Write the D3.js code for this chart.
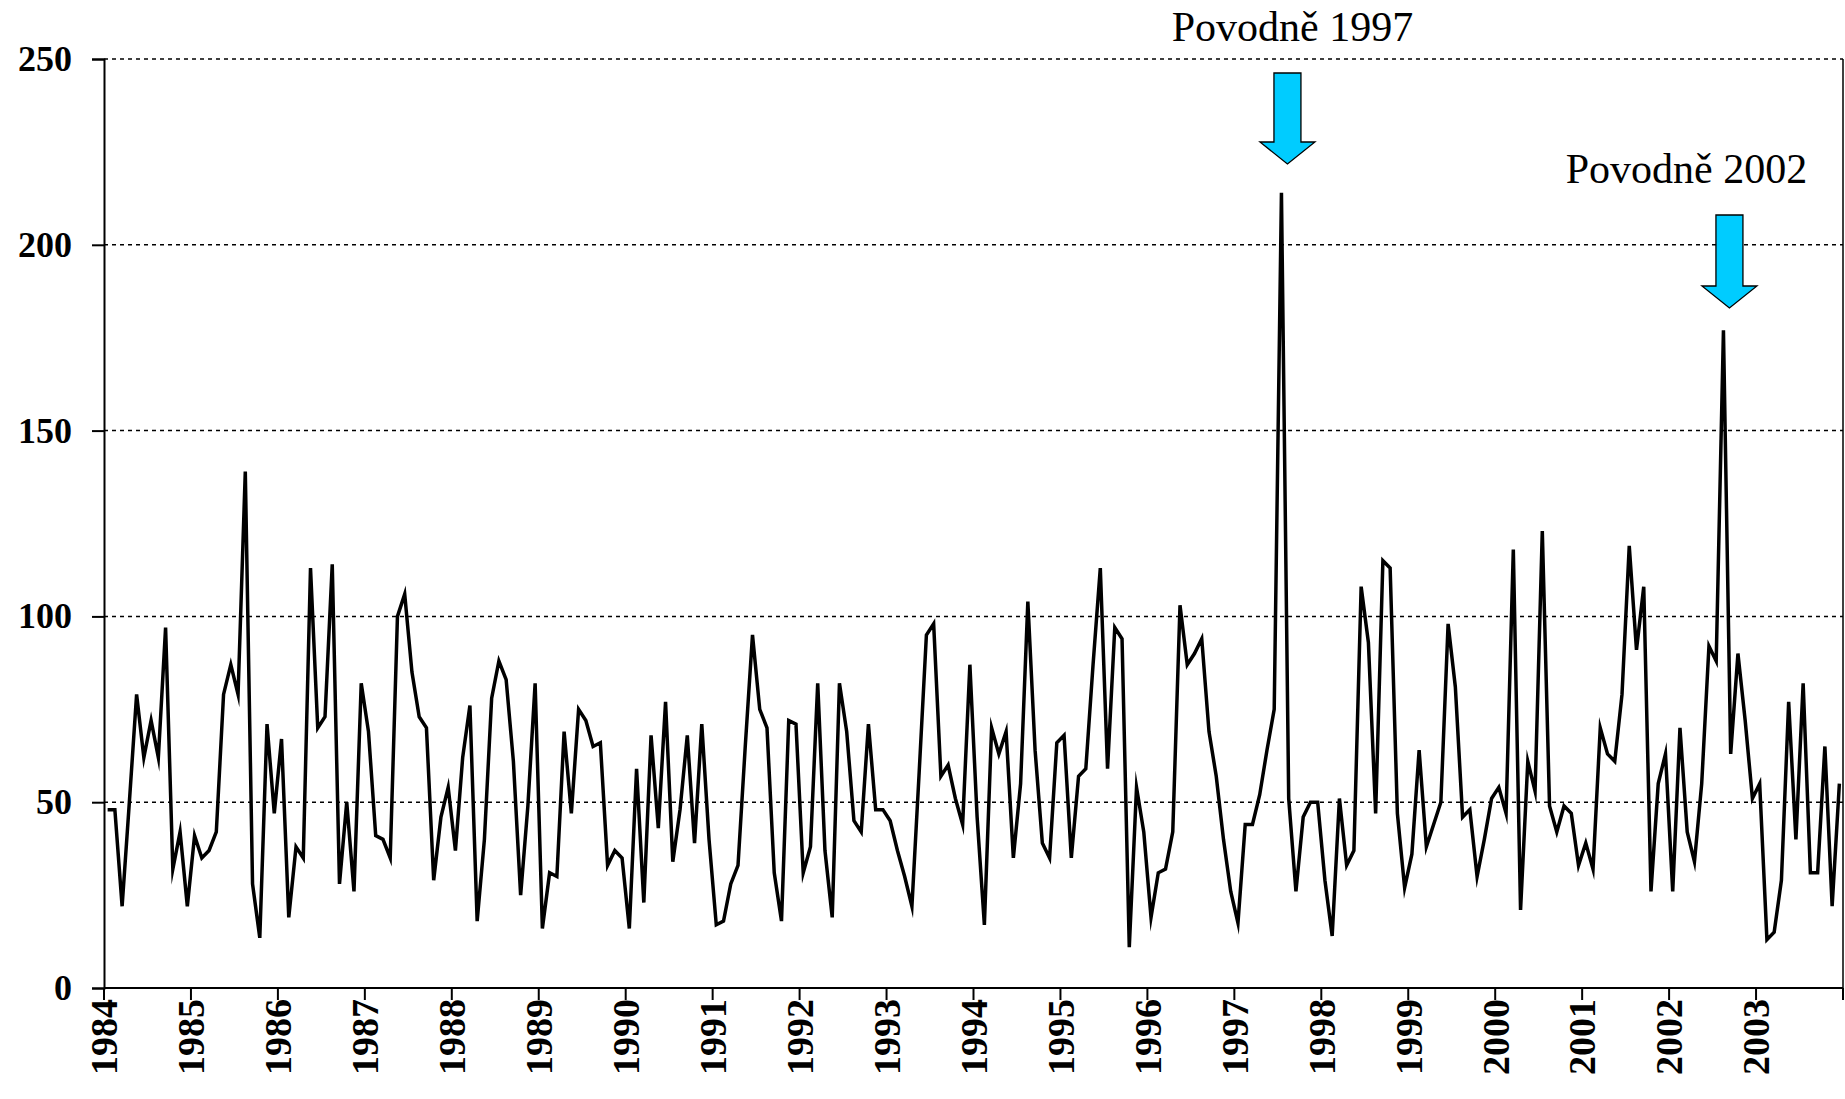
<!DOCTYPE html>
<html>
<head>
<meta charset="utf-8">
<script src="https://cdn.jsdelivr.net/npm/d3@7"></script>
<style>
  html, body { margin: 0; padding: 0; background: #fff; }
  svg { display: block; }
</style>
</head>
<body>
<svg id="chart" width="1845" height="1099"></svg>
<script>
// ---- DATA ----
const yearLabels = ["1984","1985","1986","1987","1988","1989","1990","1991","1992","1993",
                    "1994","1995","1996","1997","1998","1999","2000","2001","2002","2003"];
const v1984 = [48, 48, 22, 50, 79, 62, 72, 62, 97, 32, 42, 22];
const v1985 = [41, 35, 37, 42, 79, 87, 79, 139, 28, 13.5, 71, 47];
const v1986 = [67, 19, 38, 35, 113, 70, 73, 114, 28, 50, 26, 82];
const v1987 = [69, 41, 40, 35, 100, 106, 85, 73, 70, 29, 46, 54];
const v1988 = [37, 62, 76, 18, 40, 78, 88, 83, 61, 25, 49, 82];
const v1989 = [16, 31, 30, 69, 47, 75, 72, 65, 66, 33, 37, 35];
const v1990 = [16, 59, 23, 68, 43, 77, 34, 48, 68, 39, 71, 40];
const v1991 = [17, 18, 28, 33, 65, 95, 75, 70, 31, 18, 72, 71];
const v1992 = [31, 38, 82, 37, 19, 82, 69, 45, 42, 71, 48, 48];
const v1993 = [45, 37, 30, 22, 58, 95, 98, 57, 60, 51, 44, 87];
const v1994 = [46, 17, 70, 63, 69, 35, 55, 104, 64, 39, 35, 66];
const v1995 = [68, 35, 57, 59, 87, 113, 59, 97, 94, 11, 54, 42];
const v1996 = [19, 31, 32, 42, 103, 87, 90, 94, 69, 57, 40, 26];
const v1997 = [17.5, 44, 44, 52, 64, 75, 214, 51, 26, 46, 50, 50];
const v1998 = [29, 14, 51, 33, 37, 108, 93, 47, 115, 113, 47, 27];
const v1999 = [36, 64, 38, 44, 50, 98, 81, 46, 48, 30, 40, 51];
const v2000 = [54, 47, 118, 21, 61, 53, 123, 49, 42, 49, 47, 33];
const v2001 = [39, 32, 70, 63, 61, 79, 119, 91, 108, 26, 55, 63];
const v2002 = [26, 70, 42, 34, 55, 92, 88, 177, 63, 90, 72, 51];
const v2003 = [55, 13, 15, 29, 77, 40, 82, 31, 31, 65, 22, 55];
const yTicks = [0, 50, 100, 150, 200, 250];
// flood annotations: label and the month index (0 = Jan 1984) they point to
const floodLabels = ["Povodně 1997", "Povodně 2002"];
const floodMonths = [162, 223];

const values = [].concat(v1984, v1985, v1986, v1987, v1988, v1989, v1990, v1991, v1992, v1993,
                         v1994, v1995, v1996, v1997, v1998, v1999, v2000, v2001, v2002, v2003);

// ---- LAYOUT ----
const svg = d3.select("#chart");
const mLeft = 104, mRight = 1843, mTop = 59, mBottom = 988;
const fontFam = "'Liberation Serif', 'Times New Roman', serif";

svg.append("rect").attr("width", 1845).attr("height", 1099).attr("fill", "#fff");

const x = d3.scaleBand().domain(d3.range(values.length)).range([mLeft, mRight]).padding(0);
const y = d3.scaleLinear().domain([0, 250]).range([mBottom, mTop]);
const cx = i => x(i) + x.bandwidth() / 2;

// gridlines
svg.append("g").selectAll("line")
  .data(yTicks.filter(t => t > 0))
  .join("line")
  .attr("x1", mLeft).attr("x2", mRight)
  .attr("y1", d => y(d)).attr("y2", d => y(d))
  .attr("stroke", "#000").attr("stroke-width", 1.5)
  .attr("stroke-dasharray", "4,4");

// right border
svg.append("line").attr("x1", mRight).attr("x2", mRight).attr("y1", mTop).attr("y2", mBottom)
  .attr("stroke", "#000").attr("stroke-width", 1.5);

// y axis
const yAxis = svg.append("g").attr("transform", `translate(${mLeft},0)`)
  .call(d3.axisLeft(y).tickValues(yTicks).tickSize(12).tickPadding(20).tickFormat(d3.format("d")));
yAxis.select(".domain").attr("stroke", "#000").attr("stroke-width", 2);
yAxis.selectAll(".tick line").attr("stroke", "#000").attr("stroke-width", 2);
yAxis.selectAll("text").attr("font-family", fontFam).attr("font-weight", "bold")
  .attr("font-size", 36).attr("fill", "#000");

// x axis
const yearIdx = d3.range(0, values.length + 1, 12);
const xg = svg.append("g").attr("transform", `translate(0,${mBottom})`);
xg.append("line").attr("x1", mLeft).attr("x2", mRight).attr("y1", 0).attr("y2", 0)
  .attr("stroke", "#000").attr("stroke-width", 2);
xg.selectAll("line.tk").data(yearIdx).join("line").attr("class", "tk")
  .attr("x1", d => d < values.length ? x(d) : mRight)
  .attr("x2", d => d < values.length ? x(d) : mRight)
  .attr("y1", 0).attr("y2", 12)
  .attr("stroke", "#000").attr("stroke-width", 2);
xg.selectAll("text").data(yearLabels).join("text")
  .attr("transform", (d, i) => `translate(${x(i * 12)},11) rotate(-90)`)
  .attr("text-anchor", "end")
  .attr("dy", "0.35em")
  .attr("font-family", fontFam).attr("font-weight", "bold").attr("font-size", 38)
  .attr("fill", "#000")
  .text(d => d);

// data line
const line = d3.line().x((d, i) => cx(i)).y(d => y(d));
svg.append("path").datum(values).attr("d", line)
  .attr("fill", "none").attr("stroke", "#000").attr("stroke-width", 3.5)
  .attr("stroke-linejoin", "miter").attr("stroke-miterlimit", 10);

// annotations: arrows + labels
const arrowTop = [73, 215];
const arrowTip = [164, 308];
const labelBaseline = [41, 183];
floodMonths.forEach((m, k) => {
  const ax = cx(m) + 6;
  const tipY = arrowTip[k];
  const shaftW = 13.5, headW = 27.5, headH = 22;
  const t = arrowTop[k];
  const pts = [
    [ax - shaftW, t], [ax + shaftW, t], [ax + shaftW, tipY - headH], [ax + headW, tipY - headH],
    [ax, tipY], [ax - headW, tipY - headH], [ax - shaftW, tipY - headH]
  ];
  svg.append("polygon").attr("points", pts.map(p => p.join(",")).join(" "))
    .attr("fill", "#00CCFF").attr("stroke", "#000").attr("stroke-width", 1.3);
  svg.append("text").attr("x", k === 0 ? ax + 5 : ax - 43).attr("y", labelBaseline[k])
    .attr("text-anchor", "middle")
    .attr("font-family", fontFam).attr("font-size", 42).attr("fill", "#000")
    .text(floodLabels[k]);
});
</script>
</body>
</html>
